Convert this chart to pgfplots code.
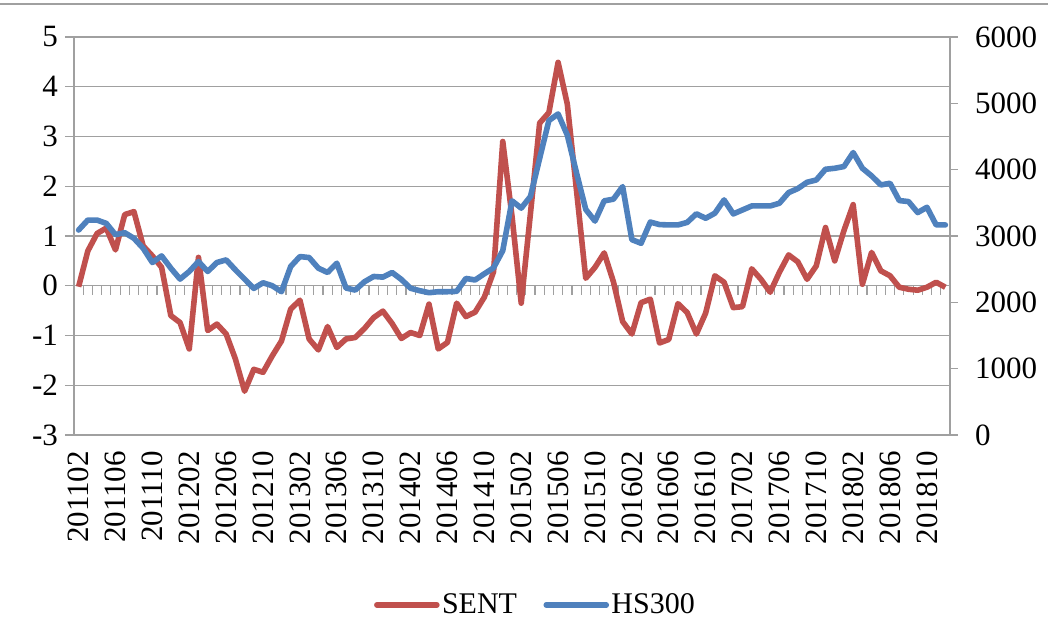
\documentclass[border=0pt]{standalone}
\usepackage{fontspec}
\setmainfont{Liberation Serif}
\usepackage{pgfplots}
\usepackage{pgfplotstable}
\pgfplotsset{compat=1.18}
\definecolor{sentred}{HTML}{C0504D}
\definecolor{hsblue}{HTML}{4F81BD}
\definecolor{gridgray}{HTML}{A0A0A0}

% monthly series, 201102 .. 201812 (i = month index)
\pgfplotstableread{
i sent hs
0 -0.02 3090
1 0.70 3240
2 1.05 3240
3 1.16 3190
4 0.72 3020
5 1.43 3050
6 1.49 2965
7 0.80 2815
8 0.60 2600
9 0.37 2700
10 -0.60 2515
11 -0.74 2350
12 -1.27 2465
13 0.57 2615
14 -0.90 2465
15 -0.77 2600
16 -0.97 2640
17 -1.47 2490
18 -2.12 2350
19 -1.68 2210
20 -1.74 2295
21 -1.41 2250
22 -1.11 2160
23 -0.47 2540
24 -0.29 2690
25 -1.07 2675
26 -1.29 2515
27 -0.82 2450
28 -1.24 2590
29 -1.07 2215
30 -1.04 2185
31 -0.86 2310
32 -0.64 2390
33 -0.51 2380
34 -0.76 2450
35 -1.06 2345
36 -0.94 2212
37 -1.00 2175
38 -0.37 2145
39 -1.27 2160
40 -1.14 2160
41 -0.35 2165
42 -0.62 2360
43 -0.53 2337
44 -0.23 2430
45 0.28 2520
46 2.90 2780
47 1.40 3530
48 -0.35 3420
49 1.45 3595
50 3.27 4170
51 3.48 4740
52 4.49 4840
53 3.65 4520
54 1.91 3950
55 0.15 3400
56 0.37 3225
57 0.66 3530
58 0.08 3555
59 -0.72 3745
60 -0.97 2945
61 -0.34 2890
62 -0.27 3210
63 -1.15 3172
64 -1.08 3167
65 -0.36 3167
66 -0.54 3205
67 -0.97 3335
68 -0.55 3267
69 0.20 3343
70 0.07 3544
71 -0.44 3333
72 -0.42 3393
73 0.34 3453
74 0.13 3453
75 -0.13 3453
76 0.27 3494
77 0.62 3654
78 0.48 3715
79 0.13 3810
80 0.40 3845
81 1.17 4006
82 0.50 4021
83 1.11 4047
84 1.63 4258
85 0.03 4021
86 0.67 3906
87 0.30 3770
88 0.20 3795
89 -0.03 3534
90 -0.07 3519
91 -0.09 3353
92 -0.03 3433
93 0.07 3167
94 -0.03 3167
}\mydata

\begin{document}
\begin{tikzpicture}[x=1pt,y=1pt]
\path[use as bounding box] (0,0) rectangle (531,321);
\draw[gridgray, line width=0.8pt] (0,319) -- (524,319);

\pgfplotsset{
  common/.style={
    at={(37pt,103.5pt)}, anchor=south west,
    scale only axis, width=438pt, height=199pt,
    xmin=-0.5, xmax=94.5,
    tick align=outside,
    ticklabel style={font=\fontsize{15.5}{18}\selectfont},
    clip=false,
  }
}

\begin{axis}[
  common,
  ymin=-3, ymax=5,
  axis line style={gridgray, line width=0.6pt},
  ytick={-3,-2,-1,0,1,2,3,4,5},
  yticklabels={-3,-2,-1,0,1,2,3,4,5},
  ymajorgrids,
  grid style={gridgray, line width=0.6pt},
  ytick pos=left,
  major tick length=4.5pt,
  y tick style={gridgray, line width=0.6pt},
  xtick={0,4,...,92},
  xticklabels={201102,201106,201110,201202,201206,201210,201302,201306,201310,201402,201406,201410,201502,201506,201510,201602,201606,201610,201702,201706,201710,201802,201806,201810},
  x tick style={draw=none},
  x tick label style={rotate=90, anchor=east},
]
\draw[gridgray, line width=0.6pt] (axis cs:-0.5,0) -- (axis cs:94.5,0);
\pgfplotsinvokeforeach{0,...,93}{
  \draw[gridgray, line width=0.6pt] (axis cs:#1+0.5,0) -- ++(0pt,-4.5pt);
}
\addplot[sentred, line width=2.8pt, line join=round] table[x=i, y=sent]{\mydata};
\end{axis}

\begin{axis}[
  common,
  ymin=0, ymax=6000,
  axis x line=none,
  axis y line*=right,
  y axis line style={gridgray, line width=0.6pt},
  ytick={0,1000,2000,3000,4000,5000,6000},
  yticklabels={0,1000,2000,3000,4000,5000,6000},
  yticklabel style={xshift=5pt},
  major tick length=4pt,
  y tick style={gridgray, line width=0.6pt},
  legend columns=2,
  legend style={draw=none, fill=none, at={(0.527,-0.427)}, anchor=center,
    font=\fontsize{15}{18}\selectfont,
    nodes={inner sep=1.2pt},
    /tikz/every even column/.append style={column sep=12pt}},
  legend image code/.code={\draw[#1] (0pt,0pt) -- (30pt,0pt);},
]
\addlegendimage{sentred, line width=2.8pt, line cap=round}
\addlegendentry{SENT}
\addplot[hsblue, line width=2.8pt, line join=round, line cap=round] table[x=i, y=hs]{\mydata};
\addlegendentry{HS300}
\end{axis}
\end{tikzpicture}
\end{document}
